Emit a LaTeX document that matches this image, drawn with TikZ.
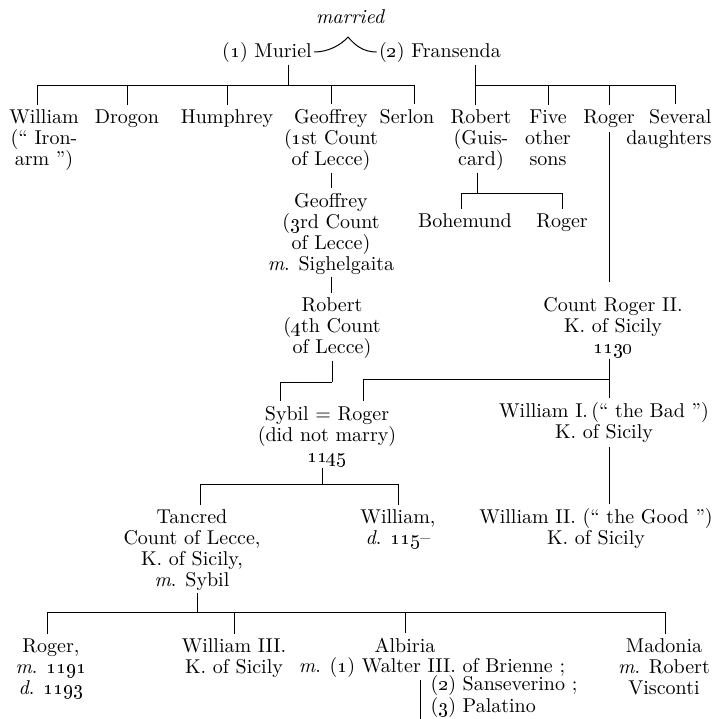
\documentclass[tikz,border=0pt]{standalone}
\usepackage{tikz}

\begin{document}
\begin{tikzpicture}[x=0.5pt, y=-0.5pt, line width=0.5pt,
    main/.style = {inner sep=0pt, anchor=base, align=center, font=\fontsize{10}{10.5}\selectfont},
    drop/.style = {shorten >=2pt}, rise/.style = {shorten <=1pt}]

    \useasboundingbox (0,0) rectangle (715,719);

    \node [main, font=\fontsize{10}{10.5}\selectfont\itshape] (married) at (350,23) {married};
    \node [main] (muriel) at (267,57) {(\oldstylenums{1}) Muriel};
    \node [main] (fransenda) at (440,57) {(\oldstylenums{2}) Fransenda};

    \node [main] (william) at (44,165) {William\\(“ Iron-\\arm ”)};
    \node [main] (drogon) at (127,123) {Drogon};
    \node [main] (humphrey) at (227,123) {Humphrey};
    \node [main] (geoffreyA) at (331,165) {Geoffrey\\(\oldstylenums{1}st Count\\of Lecce)};
    \node [main] (serlon) at (407,123) {Serlon};
    \node [main] (robert) at (481,165) {Robert\\(Guis-\\card)};
    \node [main] (five) at (548,165) {Five\\other\\sons};
    \node [main] (roger) at (609,123) {Roger};
    \node [main, anchor=base east, align=right] (several) at (712,144) {Several\\daughters};

    \node [main] (geoffreyB) at (331,270) {Geoffrey\\(\oldstylenums{3}rd Count\\of Lecce)\\\textit{m}. Sighelgaita};
    \node [main] (bohemund) at (465,227) {Bohemund};
    \node [main] (rogerA) at (562,227) {Roger};
    \node [main] (robertB) at (332,353) {Robert\\(\oldstylenums{4}th Count\\of Lecce)};
    \node [main] (rogerII) at (613,353) {Count Roger II.\\K. of Sicily\\\oldstylenums{1130}};

    \node [main] (sybilroger) at (327,462) {Sybil = Roger\\(did not marry)\\\oldstylenums{1145}};
    \node [main] (williamI) at (604,438) {William I.\,(“ the Bad ”)\\K. of Sicily};

    \node [main] (tancred) at (192,586) {Tancred\\Count of Lecce,\\K. of Sicily,\\\textit{m}. Sybil};
    \node [main] (williamC) at (398,544) {William,\\\textit{d}. \oldstylenums{115}--};
    \node [main] (williamII) at (596,544) {William II. (“ the Good ”)\\K. of Sicily};

    \node [main] (rogerC) at (51,694) {Roger,\\\textit{m}. \oldstylenums{1191}\\\textit{d}. \oldstylenums{1193}};
    \node [main] (williamIII) at (234,673) {William III.\\K. of Sicily};
    \node [main] (albiria) at (405,652) {Albiria};
    \node [main] (albm) at (432,672) {\textit{m}. (\oldstylenums{1}) Walter III. of Brienne ;};
    \node [main, anchor=base west, align=left, font=\fontsize{10}{9}\selectfont] (albmore) at (430,712) {(\oldstylenums{2}) Sanseverino ;\\(\oldstylenums{3}) Palatino};
    \node [main] (madonia) at (664,694) {Madonia\\\textit{m}. Robert\\Visconti};

    \coordinate (cusp) at (348,37);
    \coordinate (j1) at (288,85);
    \coordinate (b1w) at (37,85);
    \coordinate (b1e) at (414,85);
    \coordinate (j2) at (475,85);
    \coordinate (b2e) at (675,85);
    \coordinate (j3) at (332,382);
    \coordinate (b3w) at (280,382);
    \coordinate (j4) at (477,193);
    \coordinate (b4w) at (461,193);
    \coordinate (b4e) at (562,193);
    \coordinate (j5) at (609,379);
    \coordinate (b5w) at (363,379);
    \coordinate (j6) at (322,484);
    \coordinate (b6w) at (200,484);
    \coordinate (b6e) at (398,484);
    \coordinate (j7) at (197,612);
    \coordinate (b7w) at (47,612);
    \coordinate (b7e) at (665,612);
    \coordinate (albend) at (420,719);

    \draw[shorten <=1pt, shorten >=1pt] (muriel.east) .. controls +(16,0) and +(-7,8) .. (cusp) .. controls +(7,8) and +(-16,0) .. (fransenda.west);

    \draw[rise] (muriel.south -| j1) to (j1);
    \draw (b1w) to (b1e);
    \draw[drop] (b1w) to (b1w |- william.north);
    \draw[drop] (drogon.north |- b1w) to (drogon.north);
    \draw[drop] (humphrey.north |- b1w) to (humphrey.north);
    \draw[drop] (geoffreyA.north |- b1w) to (geoffreyA.north);
    \draw[drop] (b1e) to (b1e |- serlon.north);

    \draw[rise] (fransenda.south -| j2) to (j2);
    \draw (j2) to (b2e);
    \draw[drop] (j2) to (j2 |- robert.north);
    \draw[drop] (five.north |- j2) to (five.north);
    \draw[drop] (roger.north |- j2) to (roger.north);
    \draw[drop] (b2e) to (b2e |- several.north);

    \draw[rise, drop] (geoffreyA.south) to (geoffreyA.south |- geoffreyB.north);
    \draw[rise, drop] (geoffreyB.south) to (geoffreyB.south |- robertB.north);

    \draw[rise] (j4 |- robert.south) to (j4);
    \draw (b4w) to (b4e);
    \draw[drop] (b4w) to (b4w |- bohemund.north);
    \draw[drop] (b4e) to (b4e |- rogerA.north);

    \draw[shorten <=2pt, shorten >=7pt] (roger.south) to (roger.south |- rogerII.north);

    \draw[rise] (robertB.south) to (j3);
    \draw (b3w) to (j3);
    \draw[drop] (b3w) to (b3w |- sybilroger.north);

    \draw[rise] (j5 |- rogerII.south) to (j5);
    \draw (b5w) to (j5);
    \draw[drop] (b5w) to (b5w |- sybilroger.north);
    \draw[drop] (j5) to (j5 |- williamI.north);
    \draw[shorten <=2pt, drop] (j5 |- williamI.south) to (j5 |- williamII.north);

    \draw[rise] (j6 |- sybilroger.south) to (j6);
    \draw (b6w) to (b6e);
    \draw[drop] (b6w) to (b6w |- tancred.north);
    \draw[drop] (b6e) to (b6e |- williamC.north);

    \draw[rise] (j7 |- tancred.south) to (j7);
    \draw (b7w) to (b7e);
    \draw[drop] (b7w) to (b7w |- rogerC.north);
    \draw[drop] (williamIII.north |- b7w) to (williamIII.north);
    \draw[drop] (albiria.north |- b7w) to (albiria.north);
    \draw[drop] (b7e) to (b7e |- madonia.north);

    \draw[rise] (albm.south -| albend) to (albend);

\end{tikzpicture}
\end{document}
